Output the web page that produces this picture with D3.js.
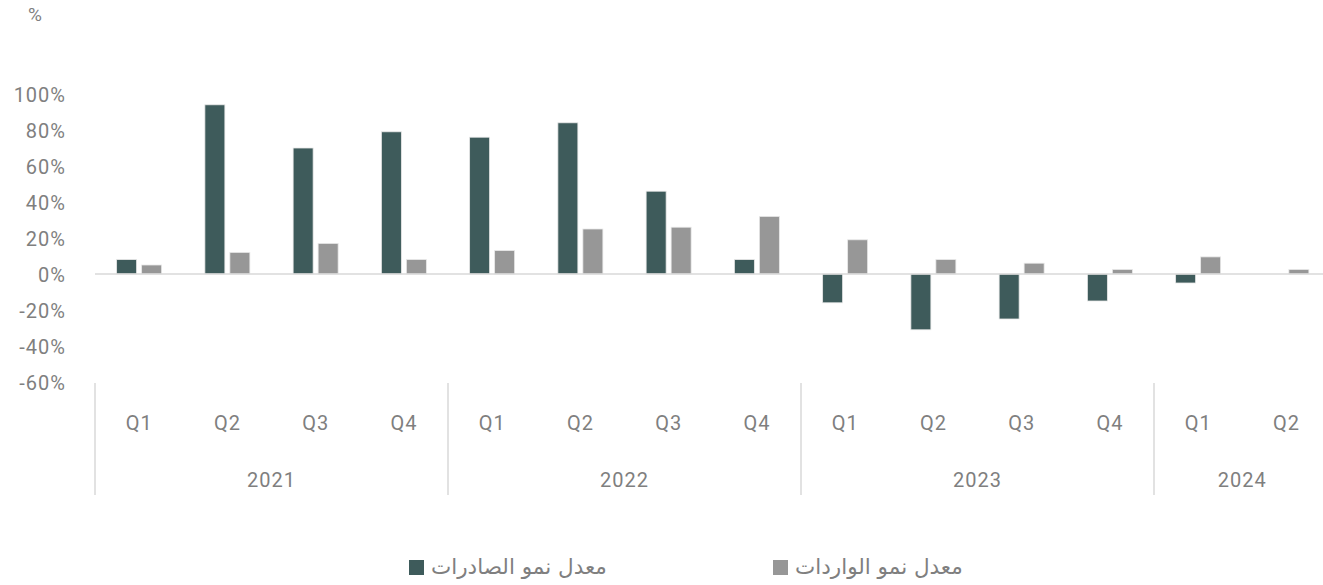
<!DOCTYPE html>
<html lang="ar">
    <head>
        <meta charset="utf-8">
        <title>growth chart</title>
        <script type="text/javascript" src="https://cdn.jsdelivr.net/npm/d3@7"></script>
        <style type="text/css">
            body { margin: 0; background: white; }
            text { font-family: Roboto, sans-serif; fill: #7f7f7f; }
        </style>
    </head>
    <body>
        <script type="text/javascript">

            // data
            var years = ["2021", "2022", "2023", "2024"];
            var quarters = ["Q1", "Q2", "Q3", "Q4", "Q1", "Q2", "Q3", "Q4", "Q1", "Q2", "Q3", "Q4", "Q1", "Q2"];
            var quarterYear = [0, 0, 0, 0, 1, 1, 1, 1, 2, 2, 2, 2, 3, 3];
            var exportsGrowth = [8, 94, 70, 79, 76, 84, 46, 8, -16, -31, -25, -15, -5, 0];
            var importsGrowth = [5, 12, 17, 8, 13, 25, 26, 32, 19, 8, 6, 2.5, 9.5, 2.5];
            var yTicks = [-60, -40, -20, 0, 20, 40, 60, 80, 100];
            var seriesNames = ["معدل نمو الصادرات", "معدل نمو الواردات"];
            var colors = ["#3e5b5b", "#979797"];

            var w = 1323;
            var h = 585;
            var left = 95;
            var band = 88.25;

            var svg = d3.select("body")
                .append("svg")
                .attr("width", w)
                .attr("height", h);

            var x0 = d3.scaleBand()
                .domain(d3.range(quarters.length))
                .range([left, left + band * quarters.length]);

            var x1 = d3.scaleBand()
                .domain([0, 1])
                .range([-22.5, 22.5])
                .paddingInner(0.2);

            var y = d3.scaleLinear()
                .domain([-60, 100])
                .range([382, 94]);

            // y axis
            var yAxis = svg.append("g")
                .attr("transform", "translate(66,0)")
                .call(d3.axisLeft(y).tickValues(yTicks).tickSize(0).tickPadding(0)
                    .tickFormat(function(d) { return d + "%"; }));
            yAxis.select(".domain").remove();
            yAxis.selectAll("text")
                .attr("dy", "0.36em")
                .style("font-family", "Roboto, sans-serif")
                .style("font-size", "20px")
                .style("letter-spacing", "1px")
                .attr("fill", "#7f7f7f");

            svg.append("text")
                .attr("x", 35)
                .attr("y", 21)
                .attr("text-anchor", "middle")
                .style("font-size", "19px")
                .text("%");

            // bars
            var series = [exportsGrowth, importsGrowth];
            series.forEach(function(vals, s) {
                svg.selectAll("rect.s" + s)
                    .data(vals)
                    .enter()
                    .append("rect")
                    .attr("class", "s" + s)
                    .attr("x", function(d, i) {
                        return x0(i) + x0.bandwidth() / 2 + x1(s);
                    })
                    .attr("y", function(d) { return y(Math.max(0, d)); })
                    .attr("width", x1.bandwidth())
                    .attr("height", function(d) { return Math.abs(y(d) - y(0)); })
                    .attr("fill", colors[s])
                    .attr("stroke", "#e8e8e8")
                    .attr("stroke-width", 0.8);
            });

            // zero line
            svg.append("line")
                .attr("x1", left)
                .attr("x2", w)
                .attr("y1", y(0))
                .attr("y2", y(0))
                .attr("stroke", "#d9d9d9")
                .attr("stroke-width", 1.5);

            // quarter labels
            svg.selectAll("text.q")
                .data(quarters)
                .enter()
                .append("text")
                .attr("class", "q")
                .attr("x", function(d, i) { return x0(i) + x0.bandwidth() / 2; })
                .attr("y", 430)
                .attr("text-anchor", "middle")
                .style("font-size", "20px")
                .style("letter-spacing", "1px")
                .text(function(d) { return d; });

            // year labels and separators
            years.forEach(function(yr, k) {
                var idx = d3.range(quarters.length).filter(function(i) { return quarterYear[i] === k; });
                var x_start = x0(idx[0]);
                var x_end = x0(idx[idx.length - 1]) + x0.bandwidth();
                svg.append("text")
                    .attr("x", (x_start + x_end) / 2)
                    .attr("y", 487)
                    .attr("text-anchor", "middle")
                    .style("font-size", "20px")
                    .style("letter-spacing", "1px")
                    .text(yr);
                svg.append("line")
                    .attr("x1", x_start)
                    .attr("x2", x_start)
                    .attr("y1", 383)
                    .attr("y2", 495)
                    .attr("stroke", "#d9d9d9")
                    .attr("stroke-width", 1.5);
            });

            // legend
            var legendX = [409, 773];
            var legend = svg.selectAll("g.legend")
                .data(seriesNames)
                .enter()
                .append("g")
                .attr("class", "legend")
                .attr("transform", function(d, i) { return "translate(" + legendX[i] + ",560)"; });
            legend.append("rect")
                .attr("width", 15)
                .attr("height", 15)
                .attr("fill", function(d, i) { return colors[i]; });
            legend.append("text")
                .attr("x", 22)
                .attr("y", 14)
                .style("font-size", "21.5px")
                .style("font-family", "'DejaVu Sans', sans-serif")
                .attr("text-anchor", "start")
                .text(function(d) { return d; });

        </script>
    </body>
</html>
